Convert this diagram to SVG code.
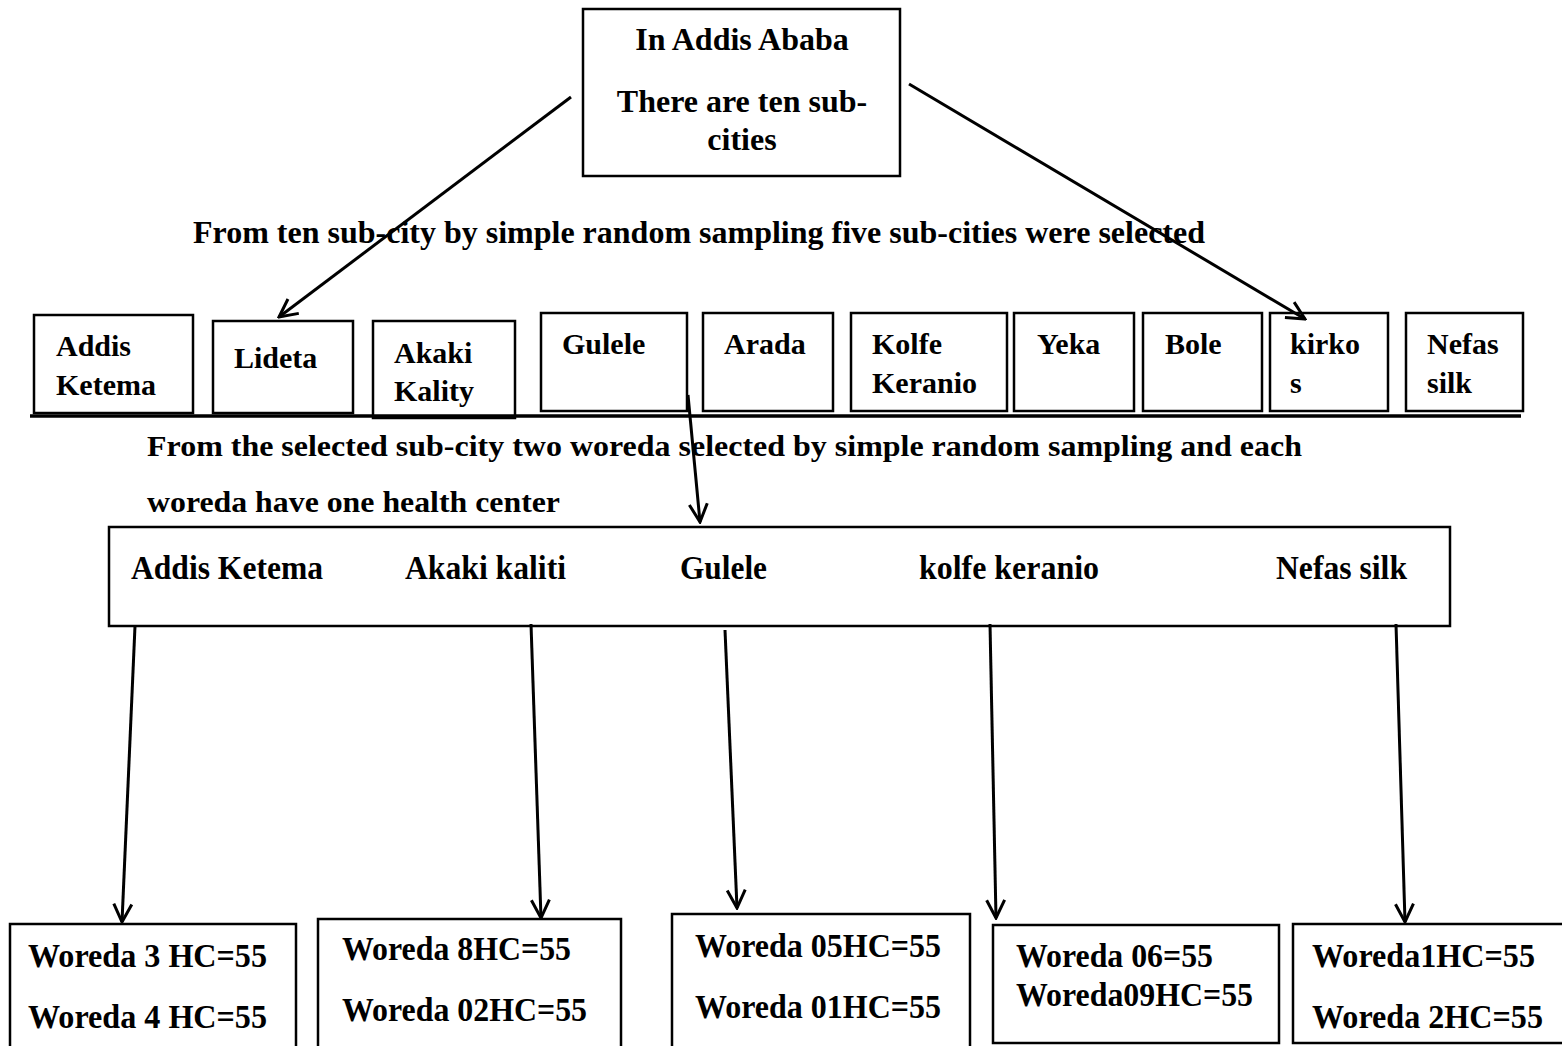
<svg xmlns="http://www.w3.org/2000/svg" width="1562" height="1046" viewBox="0 0 1562 1046">
<style>
.b{fill:#fff;stroke:#000;stroke-width:2.5}
.t{font-family:"Liberation Serif","Times New Roman",serif;font-weight:bold;fill:#000}
.f32{font-size:32px}
.f30{font-size:30px}
.f33{font-size:33px}
.c{stroke:#000;stroke-width:3;fill:none}
</style>
<defs>
<marker id="ah" viewBox="0 0 24 24" refX="22" refY="12" markerWidth="24" markerHeight="24" markerUnits="userSpaceOnUse" orient="auto">
<path d="M4,3 L22,12 L4,21" fill="none" stroke="#000" stroke-width="3"/>
</marker>
</defs>
<rect width="1562" height="1046" fill="#fff"/>

<g id="top">
<rect class="b" x="583" y="9" width="317" height="167"/>
<text class="t f32" x="742" y="50" text-anchor="middle">In Addis Ababa</text>
<text class="t f32" x="742" y="112" text-anchor="middle">There are ten sub-</text>
<text class="t f32" x="742" y="150" text-anchor="middle">cities</text>
</g>

<g id="label1">
<text class="t f32" x="193" y="243" textLength="1012" lengthAdjust="spacingAndGlyphs">From ten sub-city by simple random sampling five sub-cities were selected</text>
</g>

<g id="subcities">
<g id="sc-addis"><rect class="b" x="34" y="315" width="159" height="98"/><text class="t f30" x="56" y="356">Addis</text><text class="t f30" x="56" y="395">Ketema</text></g>
<g id="sc-lideta"><rect class="b" x="213" y="321" width="140" height="92"/><text class="t f30" x="234" y="368">Lideta</text></g>
<g id="sc-akaki"><rect class="b" x="373" y="321" width="142" height="97"/><text class="t f30" x="394" y="363">Akaki</text><text class="t f30" x="394" y="401">Kality</text></g>
<g id="sc-gulele"><rect class="b" x="541" y="313" width="146" height="98"/><text class="t f30" x="562" y="354">Gulele</text></g>
<g id="sc-arada"><rect class="b" x="703" y="313" width="130" height="98"/><text class="t f30" x="724" y="354">Arada</text></g>
<g id="sc-kolfe"><rect class="b" x="851" y="313" width="156" height="98"/><text class="t f30" x="872" y="354">Kolfe</text><text class="t f30" x="872" y="393">Keranio</text></g>
<g id="sc-yeka"><rect class="b" x="1014" y="313" width="120" height="98"/><text class="t f30" x="1037" y="354">Yeka</text></g>
<g id="sc-bole"><rect class="b" x="1143" y="313" width="119" height="98"/><text class="t f30" x="1165" y="354">Bole</text></g>
<g id="sc-kirkos"><rect class="b" x="1270" y="313" width="118" height="98"/><text class="t f30" x="1290" y="354">kirko</text><text class="t f30" x="1290" y="393">s</text></g>
<g id="sc-nefas"><rect class="b" x="1406" y="313" width="117" height="98"/><text class="t f30" x="1427" y="354">Nefas</text><text class="t f30" x="1427" y="393">silk</text></g>
</g>

<g id="divider">
<line x1="30" y1="416" x2="1521" y2="416" stroke="#000" stroke-width="3.5"/>
</g>

<g id="label2">
<text class="t f30" x="147" y="456" textLength="1155" lengthAdjust="spacingAndGlyphs">From the selected sub-city two woreda selected by simple random sampling and each</text>
<text class="t f30" x="147" y="512" textLength="413" lengthAdjust="spacingAndGlyphs">woreda have one health center</text>
</g>

<g id="selected">
<rect class="b" x="109" y="527" width="1341" height="99"/>
<text class="t f33" x="131" y="579" textLength="192" lengthAdjust="spacingAndGlyphs">Addis Ketema</text>
<text class="t f33" x="405" y="579" textLength="161" lengthAdjust="spacingAndGlyphs">Akaki kaliti</text>
<text class="t f33" x="680" y="579" textLength="87" lengthAdjust="spacingAndGlyphs">Gulele</text>
<text class="t f33" x="919" y="579" textLength="180" lengthAdjust="spacingAndGlyphs">kolfe keranio</text>
<text class="t f33" x="1276" y="579" textLength="131" lengthAdjust="spacingAndGlyphs">Nefas silk</text>
</g>

<g id="woredas">
<g id="w1"><rect class="b" x="10" y="924" width="286" height="130"/><text class="t f33" x="28" y="967" textLength="239" lengthAdjust="spacingAndGlyphs">Woreda 3 HC=55</text><text class="t f33" x="28" y="1028" textLength="239" lengthAdjust="spacingAndGlyphs">Woreda 4 HC=55</text></g>
<g id="w2"><rect class="b" x="318" y="919" width="303" height="135"/><text class="t f33" x="342" y="960" textLength="229" lengthAdjust="spacingAndGlyphs">Woreda 8HC=55</text><text class="t f33" x="342" y="1021" textLength="245" lengthAdjust="spacingAndGlyphs">Woreda 02HC=55</text></g>
<g id="w3"><rect class="b" x="672" y="914" width="298" height="140"/><text class="t f33" x="695" y="957" textLength="246" lengthAdjust="spacingAndGlyphs">Woreda 05HC=55</text><text class="t f33" x="695" y="1018" textLength="246" lengthAdjust="spacingAndGlyphs">Woreda 01HC=55</text></g>
<g id="w4"><rect class="b" x="993" y="925" width="286" height="118"/><text class="t f33" x="1016" y="967" textLength="197" lengthAdjust="spacingAndGlyphs">Woreda 06=55</text><text class="t f33" x="1016" y="1006" textLength="237" lengthAdjust="spacingAndGlyphs">Woreda09HC=55</text></g>
<g id="w5"><rect class="b" x="1293" y="924" width="280" height="119"/><text class="t f33" x="1312" y="967" textLength="223" lengthAdjust="spacingAndGlyphs">Woreda1HC=55</text><text class="t f33" x="1312" y="1028" textLength="231" lengthAdjust="spacingAndGlyphs">Woreda 2HC=55</text></g>
</g>

<g id="connectors">
<line class="c" x1="571" y1="97" x2="279" y2="317" marker-end="url(#ah)"/>
<line class="c" x1="909" y1="84" x2="1305" y2="319" marker-end="url(#ah)"/>
<line class="c" x1="688" y1="395" x2="700" y2="522" marker-end="url(#ah)"/>
<line class="c" x1="135" y1="626" x2="122" y2="922" marker-end="url(#ah)"/>
<line class="c" x1="531" y1="624" x2="541" y2="918" marker-end="url(#ah)"/>
<line class="c" x1="725" y1="630" x2="737" y2="908" marker-end="url(#ah)"/>
<line class="c" x1="990" y1="624" x2="996" y2="918" marker-end="url(#ah)"/>
<line class="c" x1="1396" y1="624" x2="1405" y2="922" marker-end="url(#ah)"/>
</g>
</svg>
